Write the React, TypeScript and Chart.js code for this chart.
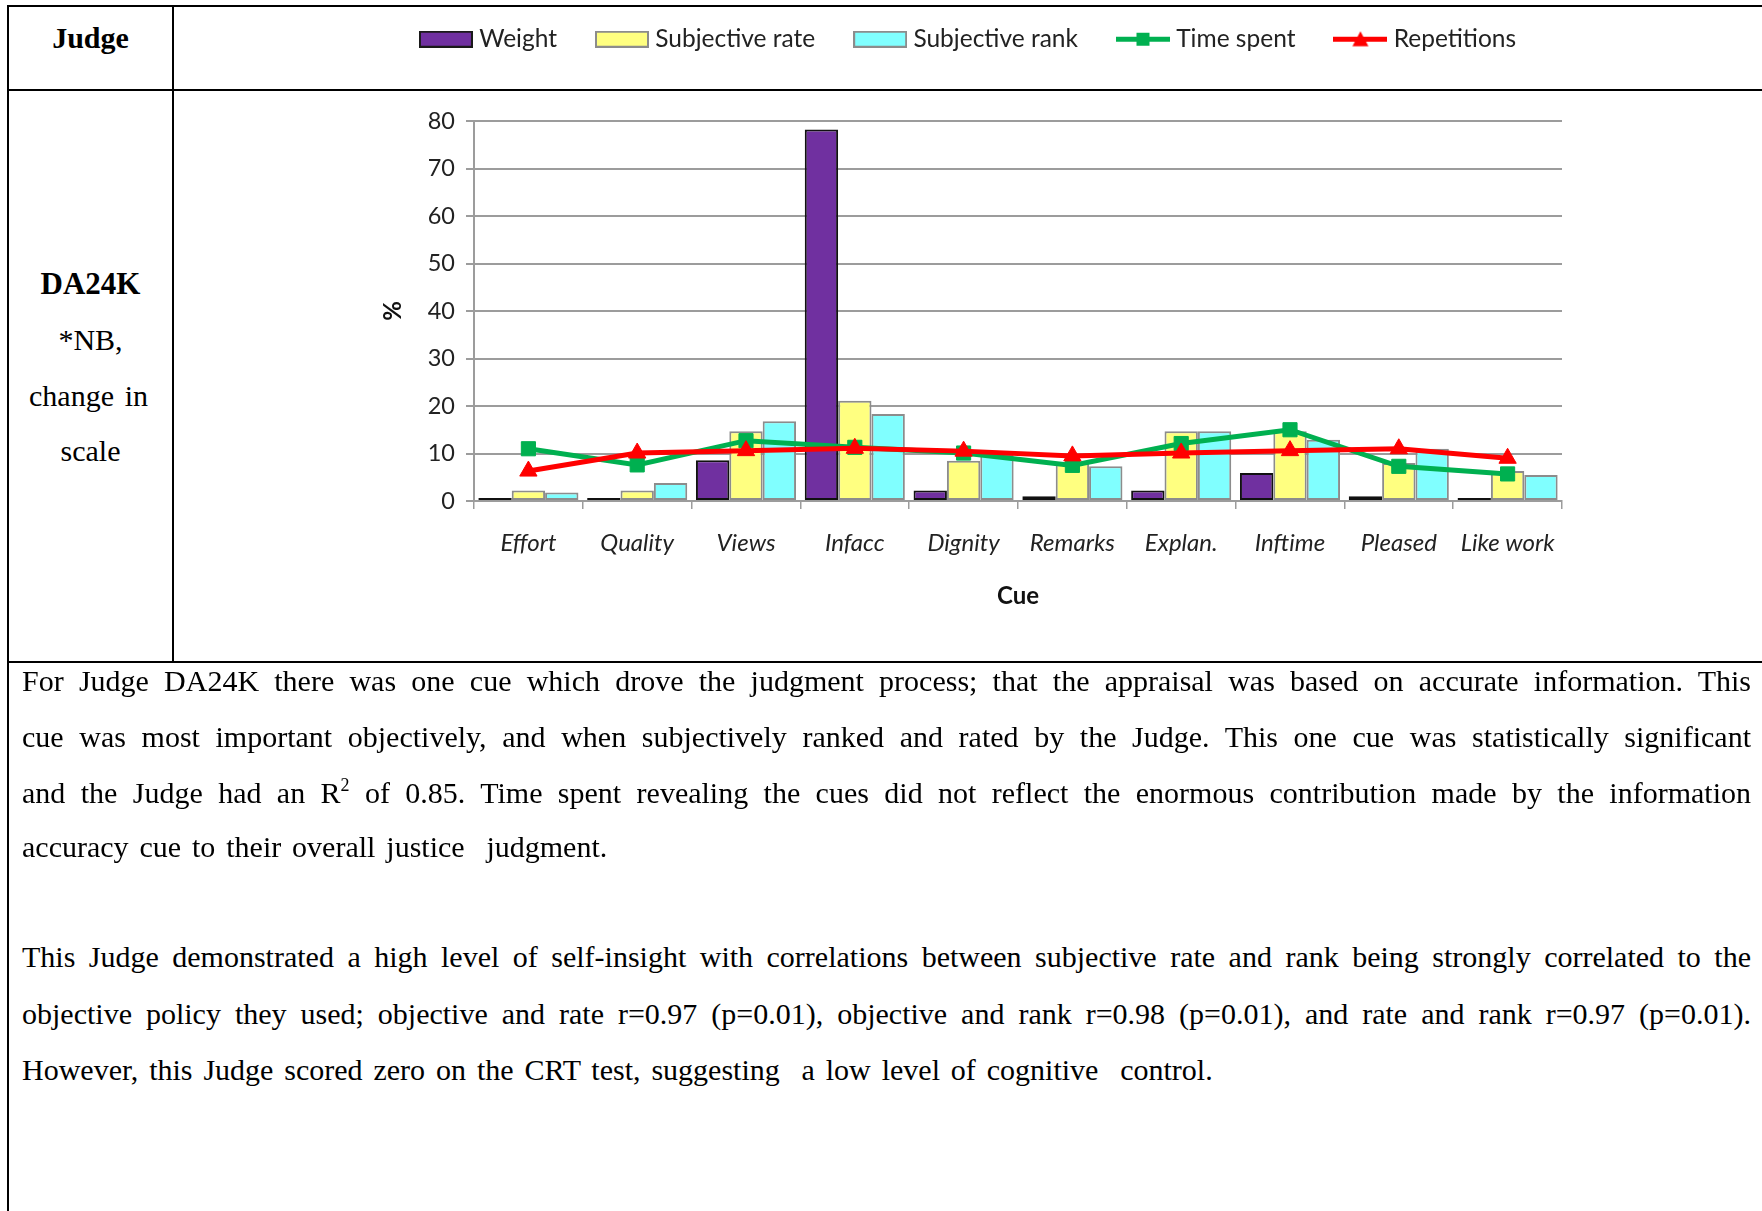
import React, { useEffect, useRef } from 'react';
import { Chart, registerables } from 'chart.js';

Chart.register(...registerables);

const categories = ['Effort', 'Quality', 'Views', 'Infacc', 'Dignity', 'Remarks', 'Explan.', 'Inftime', 'Pleased', 'Like work'];
const weight = [0.2, 0.2, 8.6, 78.2, 2.2, 1.0, 2.2, 5.9, 1.0, 0.2];
const subjectiveRate = [2.2, 2.2, 14.7, 21.1, 8.5, 8.0, 14.7, 14.7, 8.0, 6.3];
const subjectiveRank = [1.8, 3.8, 16.8, 18.3, 9.8, 7.3, 14.7, 12.9, 11.0, 5.5];
const timeSpent = [11.0, 7.6, 12.7, 11.3, 10.1, 7.5, 12.1, 15.0, 7.3, 5.7];
const repetitions = [6.3, 10.1, 10.6, 11.1, 10.5, 9.5, 10.1, 10.6, 11.0, 9.0];
const yTicks = [0, 10, 20, 30, 40, 50, 60, 70, 80];

const PURPLE = '#7030A0';
const YELLOW = '#FFFF80';
const CYAN = '#80FFFF';
const GREEN = '#00B050';
const RED = '#FF0000';
const GRID = '#9c9c9c';
const FONT = 'Lato, "Open Sans", sans-serif';

function makeBoxIcon(fill: string, stroke: string) {
  const c = document.createElement('canvas');
  c.width = 54;
  c.height = 17;
  const ctx = c.getContext('2d')!;
  ctx.fillStyle = fill;
  ctx.fillRect(0, 0, 54, 17);
  ctx.strokeStyle = stroke;
  ctx.lineWidth = 2;
  ctx.strokeRect(1, 1, 52, 15);
  return c;
}

function makeLineIcon(color: string, marker: 'rect' | 'triangle') {
  const c = document.createElement('canvas');
  c.width = 54;
  c.height = 17;
  const ctx = c.getContext('2d')!;
  ctx.strokeStyle = color;
  ctx.lineWidth = 5;
  ctx.beginPath();
  ctx.moveTo(0, 8.5);
  ctx.lineTo(54, 8.5);
  ctx.stroke();
  ctx.fillStyle = color;
  if (marker === 'rect') {
    ctx.fillRect(20.5, 2, 13, 13);
  } else {
    ctx.beginPath();
    ctx.moveTo(27, 0.5);
    ctx.lineTo(35, 15.5);
    ctx.lineTo(19, 15.5);
    ctx.closePath();
    ctx.fill();
  }
  return c;
}

const legendSpacer = {
  id: 'legendSpacer',
  beforeUpdate(chart: any) {
    const leg = chart.legend;
    if (leg && !leg._patched) {
      const orig = leg.fit;
      leg.fit = function () {
        orig.call(this);
        this.height = 138;
      };
      leg._patched = true;
    }
  },
  afterLayout(chart: any) {
    const leg = chart.legend;
    if (leg) {
      leg.left += 7;
      leg.right += 7;
    }
  },
};

function ChartBox() {
  const ref = useRef<HTMLCanvasElement | null>(null);
  useEffect(() => {
    if (!ref.current) return;
    const icons = [
      makeBoxIcon(PURPLE, '#1a1a1a'),
      makeBoxIcon(YELLOW, '#8c8c8c'),
      makeBoxIcon(CYAN, '#8c8c8c'),
      makeLineIcon(GREEN, 'rect'),
      makeLineIcon(RED, 'triangle'),
    ];
    const barCommon = {
      type: 'bar' as const,
      borderWidth: 2,
      borderSkipped: false,
      categoryPercentage: 0.92,
      barPercentage: 1.0,
      order: 3,
    };
    const chart = new Chart(ref.current, {
      type: 'bar',
      data: {
        labels: categories,
        datasets: [
          { ...barCommon, label: 'Weight', data: weight, backgroundColor: PURPLE, borderColor: '#111111', minBarLength: 3 },
          { ...barCommon, label: 'Subjective rate', data: subjectiveRate, backgroundColor: YELLOW, borderColor: '#8c8c8c' },
          { ...barCommon, label: 'Subjective rank', data: subjectiveRank, backgroundColor: CYAN, borderColor: '#8c8c8c' },
          {
            type: 'line', label: 'Time spent', data: timeSpent, borderColor: GREEN, backgroundColor: GREEN,
            borderWidth: 5, pointStyle: 'rect', pointRadius: 10, pointBorderWidth: 1, order: 2, tension: 0,
          },
          {
            type: 'line', label: 'Repetitions', data: repetitions, borderColor: RED, backgroundColor: RED,
            borderWidth: 5, pointStyle: 'triangle', pointRadius: 10, pointBorderWidth: 1, order: 1, tension: 0,
          },
        ] as any,
      },
      options: {
        animation: false,
        responsive: false,
        events: [],
        layout: { padding: { left: 190, right: 200, top: 0, bottom: 0 } },
        plugins: {
          tooltip: { enabled: false },
          legend: {
            position: 'top',
            labels: {
              usePointStyle: true,
              pointStyleWidth: 42,
              padding: 44,
              color: '#222',
              font: { family: FONT, size: 24.5 },
              generateLabels: (ch: any) =>
                ch.data.datasets.map((ds: any, i: number) => ({
                  text: ds.label,
                  datasetIndex: i,
                  pointStyle: icons[i],
                  hidden: false,
                  fillStyle: ds.backgroundColor,
                  strokeStyle: ds.borderColor,
                  lineWidth: 0,
                  fontColor: '#222',
                })),
            },
          },
        },
        scales: {
          x: {
            afterFit: (s: any) => { s.height = 160; },
            grid: { drawOnChartArea: false, drawTicks: true, tickLength: 8, color: GRID, lineWidth: 1.5, offset: true },
            border: { color: GRID, width: 2 },
            ticks: { color: '#222', font: { family: FONT, size: 24, style: 'italic' }, padding: 20, maxRotation: 0, autoSkip: false },
            title: { display: true, text: 'Cue', color: '#111', font: { family: FONT, size: 24, weight: 'bold' }, padding: { top: 0, bottom: 50 } },
          },
          y: {
            min: 0,
            max: 80,
            afterFit: (s: any) => { s.width = 109; },
            afterBuildTicks: (s: any) => { s.ticks = yTicks.map((v) => ({ value: v })); },
            grid: { color: GRID, lineWidth: 2, drawTicks: true, tickLength: 8 },
            border: { color: GRID, width: 2 },
            ticks: { color: '#222', font: { family: FONT, size: 23.5 }, padding: 11 },
            title: { display: true, text: '%', color: '#111', font: { family: FONT, size: 24, weight: 'bold' }, padding: { top: 14, bottom: 0 } },
          },
        },
      } as any,
      plugins: [legendSpacer],
    });
    return () => chart.destroy();
  }, []);
  return (
    <canvas
      ref={ref}
      width={1587}
      height={678}
      style={{ position: 'absolute', left: 175, top: -17, width: 1587, height: 678 }}
    />
  );
}

const serif = '"Liberation Serif", "Times New Roman", serif';

function Line({ y, children, last }: { y: number; children: React.ReactNode; last?: boolean }) {
  return (
    <div
      style={{
        position: 'absolute',
        left: 22,
        width: 1729,
        top: y - 28,
        height: 56,
        lineHeight: '56px',
        fontFamily: serif,
        fontSize: 30,
        color: '#000',
        whiteSpace: 'pre',
        textAlign: last ? 'left' : 'justify',
        textAlignLast: last ? 'left' : 'justify',
        wordSpacing: last ? 3.4 : 0,
      } as any}
    >
      {children}
    </div>
  );
}

function Cell({ y, children, bold, style }: { y: number; children: React.ReactNode; bold?: boolean; style?: any }) {
  return (
    <div
      style={{
        position: 'absolute',
        left: 8,
        width: 165,
        top: y - 28,
        height: 56,
        lineHeight: '56px',
        fontFamily: serif,
        fontSize: 30,
        fontWeight: bold ? 'bold' : 'normal',
        textAlign: 'center',
        color: '#000',
        ...style,
      }}
    >
      {children}
    </div>
  );
}

export default function App() {
  const bar = (s: any) => <div style={{ position: 'absolute', background: '#000', zIndex: 5, ...s }} />;
  return (
    <div style={{ position: 'absolute', left: 0, top: 0, width: 1762, height: 1211, overflow: 'hidden', background: '#fff' }}>
      <ChartBox />
      {bar({ left: 7, top: 5, width: 1755, height: 2 })}
      {bar({ left: 7, top: 5, width: 2, height: 1206 })}
      {bar({ left: 7, top: 89, width: 1755, height: 2 })}
      {bar({ left: 172, top: 5, width: 2, height: 657 })}
      {bar({ left: 7, top: 661, width: 1755, height: 2 })}

      <Cell y={38} bold>Judge</Cell>
      <Cell y={284} bold style={{ fontSize: 31 }}>DA24K</Cell>
      <Cell y={340}>*NB,</Cell>
      <Cell y={396} style={{ left: 29, width: 119, textAlign: 'justify', textAlignLast: 'justify' }}>change in</Cell>
      <Cell y={451}>scale</Cell>

      <Line y={681}>For Judge DA24K there was one cue which drove the judgment process; that the appraisal was based on accurate information. This</Line>
      <Line y={737}>cue was most important objectively, and when subjectively ranked and rated by the Judge. This one cue was statistically significant</Line>
      <Line y={793}>
        and the Judge had an R<span style={{ fontSize: 18, position: 'relative', top: -12 }}>2</span> of 0.85. Time spent revealing the cues did not reflect the enormous contribution made by the information
      </Line>
      <Line y={847} last>accuracy cue to their overall justice  judgment.</Line>
      <Line y={957}>This Judge demonstrated a high level of self-insight with correlations between subjective rate and rank being strongly correlated to the</Line>
      <Line y={1014}>objective policy they used; objective and rate r=0.97 (p=0.01), objective and rank r=0.98 (p=0.01), and rate and rank r=0.97 (p=0.01).</Line>
      <Line y={1070} last>However, this Judge scored zero on the CRT test, suggesting  a low level of cognitive  control.</Line>
    </div>
  );
}
